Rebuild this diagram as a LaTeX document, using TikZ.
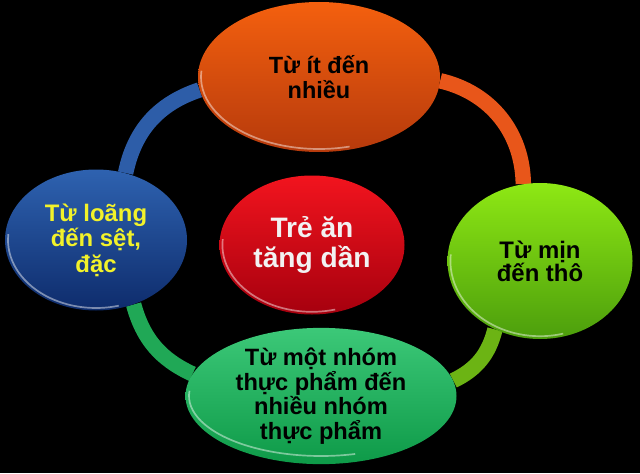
\documentclass[tikz,border=0pt]{standalone}
\usepackage{fontspec}
\setmainfont{Liberation Sans}
\usetikzlibrary{shapes.geometric}
\pgfdeclarelayer{back}
\pgfsetlayers{back,main}
\definecolor{orangeT}{HTML}{F4600E}
\definecolor{orangeB}{HTML}{B63A0C}
\definecolor{blueT}{HTML}{2E62B0}
\definecolor{blueB}{HTML}{0E2C6C}
\definecolor{redT}{HTML}{F2141E}
\definecolor{redB}{HTML}{A6000E}
\definecolor{limeT}{HTML}{8EE814}
\definecolor{limeB}{HTML}{4C9E0C}
\definecolor{greenT}{HTML}{3CC878}
\definecolor{greenB}{HTML}{0E9A48}
\definecolor{txtyellow}{HTML}{F2F22A}
\definecolor{ringblue}{HTML}{2D5DA8}
\definecolor{ringorange}{HTML}{E8561A}
\definecolor{ringlime}{HTML}{6CB414}
\definecolor{ringgreen}{HTML}{20A856}
\tikzset{
  bubble/.style={ellipse, inner sep=0pt, align=center, font=\bfseries},
  ring/.style={line width=11pt},
  rim/.style={white, opacity=0.45, line width=1.2pt},
}
\begin{document}
\begin{tikzpicture}
  \useasboundingbox (0,0) rectangle (16,11.825);
  \node [bubble, top color=orangeT, bottom color=orangeB, minimum width=6.05cm, minimum height=3.75cm,
    font=\bfseries\fontsize{16.7}{17.8}\selectfont] (nhieu) at (7.975,9.9) {Từ ít đến\\nhiều};
  \node [bubble, top color=blueT, bottom color=blueB, minimum width=4.55cm, minimum height=3.525cm,
    text=txtyellow, font=\bfseries\fontsize{17}{18.1}\selectfont] (loang) at (2.4,5.825) {Từ loãng\\đến sệt,\\đặc};
  \node [bubble, top color=redT, bottom color=redB, minimum width=4.625cm, minimum height=3.475cm,
    text=white!95!black, font=\bfseries\fontsize{20}{21.3}\selectfont] (tang) at (7.8,5.7) {Trẻ ăn\\tăng dần};
  \node [bubble, top color=limeT, bottom color=limeB, minimum width=4.625cm, minimum height=3.9cm,
    font=\bfseries\fontsize{17}{16.5}\selectfont] (min) at (13.5,5.3) {Từ mịn\\đến thô};
  \node [bubble, top color=greenT, bottom color=greenB, minimum width=6.775cm, minimum height=3.125cm,
    font=\bfseries\fontsize{16.8}{17.5}\selectfont] (nhom) at (8.025,1.925) {Từ một nhóm\\thực phẩm đến\\nhiều nhóm\\thực phẩm};
  % light rims
  \draw [rim] ([shift={(175:2.95 and 1.8)}]nhieu.center) arc [start angle=175, end angle=285, x radius=2.95, y radius=1.8];
  \draw [rim] ([shift={(175:2.2 and 1.7)}]loang.center) arc [start angle=175, end angle=285, x radius=2.2, y radius=1.7];
  \draw [rim] ([shift={(175:2.24 and 1.67)}]tang.center) arc [start angle=175, end angle=285, x radius=2.24, y radius=1.67];
  \draw [rim] ([shift={(175:2.24 and 1.88)}]min.center) arc [start angle=175, end angle=285, x radius=2.24, y radius=1.88];
  \draw [rim] ([shift={(175:3.3 and 1.5)}]nhom.center) arc [start angle=175, end angle=285, x radius=3.3, y radius=1.5];
  \begin{pgfonlayer}{back}
    \fill [black] (0,0) rectangle (16,11.825);
    \draw [ring, ringblue] (loang) to [bend left=30] (nhieu);
    \draw [ring, ringorange] (nhieu) to [bend left=38] (min);
    \draw [ring, ringlime] (min) to [bend left=25] (nhom);
    \draw [ring, ringgreen] (nhom) to [bend left=25] (loang);
  \end{pgfonlayer}
\end{tikzpicture}
\end{document}
